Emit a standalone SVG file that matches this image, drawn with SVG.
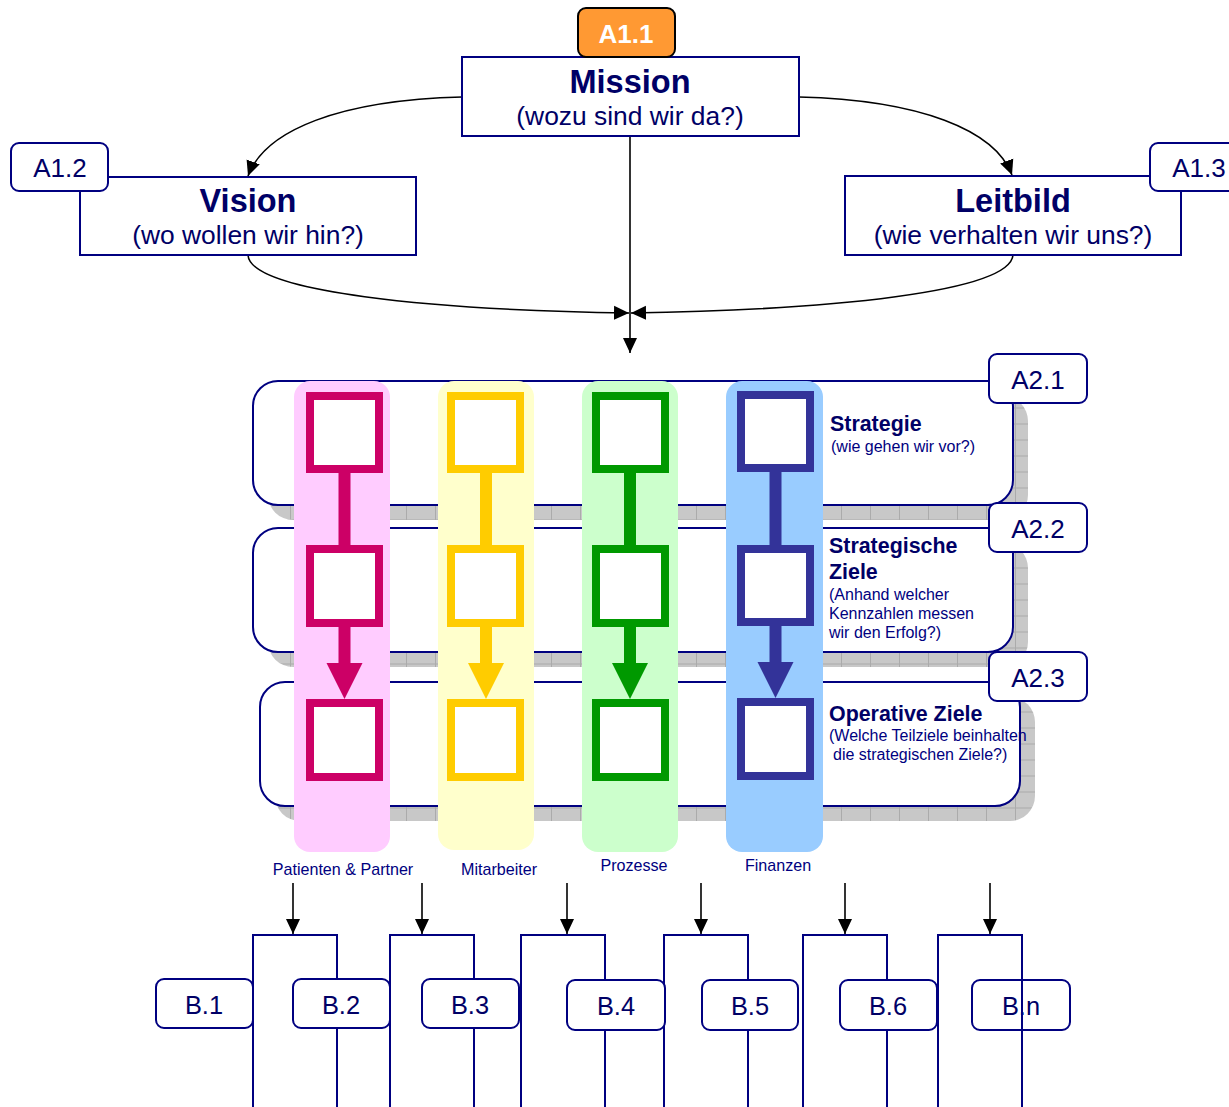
<svg xmlns="http://www.w3.org/2000/svg" width="1229" height="1107" viewBox="0 0 1229 1107">
<style>
text{font-family:"Liberation Sans",Arial,sans-serif;fill:#000066}
.box{fill:#fff;stroke:#000080;stroke-width:2}
.lbl{fill:#fff;stroke:#000080;stroke-width:2}
.t24{font-size:25.4px;text-anchor:middle}
.t25{font-size:26px;text-anchor:middle}
.big{font-size:32.5px;font-weight:bold;text-anchor:middle}
.sub{font-size:26.4px;text-anchor:middle}
.bt{font-size:21.4px;font-weight:bold}
.st{font-size:16px;fill:#000080}
.cl{font-size:16.1px;text-anchor:middle;fill:#000080}
.band{fill:#fff;stroke:#000080;stroke-width:2}
.shadow{fill:url(#shp)}
.conn{fill:none;stroke:#000;stroke-width:1.6}
</style>
<defs>
<pattern id="shp" width="29" height="16" patternUnits="userSpaceOnUse">
<rect width="29" height="16" fill="#c8c8c8"/>
<path d="M0,8H29M0.5,0V16" stroke="#ababab" stroke-width="1"/>
</pattern>
<marker id="arr" markerWidth="16" markerHeight="16" refX="15" refY="8" orient="auto" markerUnits="userSpaceOnUse">
<path d="M0,1 L15,8 L0,15 z" fill="#000"/>
</marker>
</defs>

<!-- connectors -->
<g id="connectors">
<path class="conn" d="M462,97 C340,100 265,130 248,176" marker-end="url(#arr)"/>
<path class="conn" d="M799,97 C920,100 995,130 1012,175" marker-end="url(#arr)"/>
<path class="conn" d="M630,136 V353" marker-end="url(#arr)"/>
<path class="conn" d="M248,255 C250,292 430,310 629,313" marker-end="url(#arr)"/>
<path class="conn" d="M1013,255 C1010,292 830,310 631,313" marker-end="url(#arr)"/>
<path class="conn" d="M293,883 V934" marker-end="url(#arr)"/>
<path class="conn" d="M422,883 V934" marker-end="url(#arr)"/>
<path class="conn" d="M567,883 V934" marker-end="url(#arr)"/>
<path class="conn" d="M701,883 V934" marker-end="url(#arr)"/>
<path class="conn" d="M845,883 V934" marker-end="url(#arr)"/>
<path class="conn" d="M990,883 V934" marker-end="url(#arr)"/>
</g>

<!-- top nodes -->
<g id="mission">
<rect class="box" x="462" y="57" width="337" height="79"/>
<text class="big" x="630" y="93">Mission</text>
<text class="sub" x="630" y="125">(wozu sind wir da?)</text>
</g>
<g id="a11">
<rect x="578" y="8" width="97" height="49" rx="8" fill="#ff9933" stroke="#000" stroke-width="2"/>
<text x="626" y="43" style="font-size:26px;font-weight:bold;text-anchor:middle;fill:#fff">A1.1</text>
</g>
<g id="vision">
<rect class="box" x="80" y="177" width="336" height="78"/>
<text class="big" x="248" y="212">Vision</text>
<text class="sub" x="248" y="244">(wo wollen wir hin?)</text>
</g>
<g id="a12">
<rect class="lbl" x="11" y="143" width="97" height="48" rx="8"/>
<text class="t25" x="60" y="177">A1.2</text>
</g>
<g id="leitbild">
<rect class="box" x="845" y="176" width="336" height="79"/>
<text class="big" x="1013" y="212">Leitbild</text>
<text class="sub" x="1013" y="244">(wie verhalten wir uns?)</text>
</g>
<g id="a13">
<rect class="lbl" x="1150" y="143" width="98" height="48" rx="8"/>
<text class="t25" x="1199" y="177">A1.3</text>
</g>

<!-- bands -->
<g id="band1">
<rect class="shadow" x="268" y="396" width="760" height="124" rx="25"/>
<rect class="band" x="253" y="381" width="760" height="124" rx="25"/>
</g>
<g id="band2">
<rect class="shadow" x="268" y="543" width="760" height="124" rx="25"/>
<rect class="band" x="253" y="528" width="760" height="124" rx="25"/>
</g>
<g id="band3">
<rect class="shadow" x="275" y="697" width="760" height="124" rx="25"/>
<rect class="band" x="260" y="682" width="760" height="124" rx="25"/>
</g>

<!-- columns -->
<g id="col-patienten">
<rect x="294" y="381" width="96" height="471" rx="16" fill="#ffccff"/>
<rect x="338.5" y="472" width="12" height="74" fill="#cc0066"/>
<rect x="338.5" y="626" width="12" height="38" fill="#cc0066"/>
<path d="M326.5,663 H362.5 L344.5,699 z" fill="#cc0066"/>
<g fill="#fff" stroke="#cc0066" stroke-width="8">
<rect x="310" y="396" width="69" height="73"/>
<rect x="310" y="549" width="69" height="74"/>
<rect x="310" y="703" width="69" height="74"/>
</g>
<text class="cl" x="343" y="875">Patienten &amp; Partner</text>
</g>
<g id="col-mitarbeiter">
<rect x="438" y="381" width="96" height="469" rx="16" fill="#ffffcc"/>
<rect x="480" y="472" width="12" height="74" fill="#ffcc00"/>
<rect x="480" y="626" width="12" height="38" fill="#ffcc00"/>
<path d="M468,663 H504 L486,699 z" fill="#ffcc00"/>
<g fill="#fff" stroke="#ffcc00" stroke-width="8">
<rect x="451" y="396" width="69" height="73"/>
<rect x="451" y="549" width="69" height="74"/>
<rect x="451" y="703" width="69" height="74"/>
</g>
<text class="cl" x="499" y="875">Mitarbeiter</text>
</g>
<g id="col-prozesse">
<rect x="582" y="381" width="96" height="471" rx="16" fill="#ccffcc"/>
<rect x="624" y="472" width="12" height="74" fill="#009900"/>
<rect x="624" y="626" width="12" height="38" fill="#009900"/>
<path d="M612,663 H648 L630,699 z" fill="#009900"/>
<g fill="#fff" stroke="#009900" stroke-width="8">
<rect x="596" y="396" width="69" height="73"/>
<rect x="596" y="549" width="69" height="74"/>
<rect x="596" y="703" width="69" height="74"/>
</g>
<text class="cl" x="634" y="871">Prozesse</text>
</g>
<g id="col-finanzen">
<rect x="726" y="381" width="97" height="471" rx="16" fill="#99ccff"/>
<rect x="769.5" y="471" width="12" height="75" fill="#333399"/>
<rect x="769.5" y="625" width="12" height="38" fill="#333399"/>
<path d="M757.5,662 H793.5 L775.5,698 z" fill="#333399"/>
<g fill="#fff" stroke="#333399" stroke-width="8">
<rect x="741" y="395" width="69" height="73"/>
<rect x="741" y="549" width="69" height="73"/>
<rect x="741" y="702" width="69" height="74"/>
</g>
<text class="cl" x="778" y="871">Finanzen</text>
</g>

<!-- band texts -->
<g id="strategie-text">
<text class="bt" x="830" y="431">Strategie</text>
<text class="st" x="831" y="452">(wie gehen wir vor?)</text>
</g>
<g id="ziele-text">
<text class="bt" x="829" y="553">Strategische</text>
<text class="bt" x="829" y="579">Ziele</text>
<text class="st" x="829" y="600">(Anhand welcher</text>
<text class="st" x="829" y="619">Kennzahlen messen</text>
<text class="st" x="829" y="638">wir den Erfolg?)</text>
</g>
<g id="operative-text">
<text class="bt" x="829" y="721">Operative Ziele</text>
<text class="st" x="829" y="741">(Welche Teilziele beinhalten</text>
<text class="st" x="833" y="760">die strategischen Ziele?)</text>
</g>

<g id="a21">
<rect class="lbl" x="989" y="354" width="98" height="49" rx="8"/>
<text class="t25" x="1038" y="389">A2.1</text>
</g>
<g id="a22">
<rect class="lbl" x="989" y="503" width="98" height="49" rx="8"/>
<text class="t25" x="1038" y="538">A2.2</text>
</g>
<g id="a23">
<rect class="lbl" x="989" y="652" width="98" height="49" rx="8"/>
<text class="t25" x="1038" y="687">A2.3</text>
</g>

<!-- bottom columns -->
<g id="bcols">
<rect class="box" x="253" y="935" width="84" height="180"/>
<rect class="box" x="390" y="935" width="84" height="180"/>
<rect class="box" x="521" y="935" width="84" height="180"/>
<rect class="box" x="664" y="935" width="84" height="180"/>
<rect class="box" x="803" y="935" width="84" height="180"/>
</g>
<g id="b1"><rect class="lbl" x="156" y="979" width="97" height="49" rx="8"/><text class="t24" x="204" y="1014">B.1</text></g>
<g id="b2"><rect class="lbl" x="293" y="979" width="97" height="49" rx="8"/><text class="t24" x="341" y="1014">B.2</text></g>
<g id="b3"><rect class="lbl" x="422" y="979" width="97" height="49" rx="8"/><text class="t24" x="470" y="1014">B.3</text></g>
<g id="b4"><rect class="lbl" x="567" y="980" width="98" height="50" rx="8"/><text class="t24" x="616" y="1015">B.4</text></g>
<g id="b5"><rect class="lbl" x="702" y="980" width="96" height="50" rx="8"/><text class="t24" x="750" y="1015">B.5</text></g>
<g id="b6"><rect class="lbl" x="840" y="980" width="97" height="50" rx="8"/><text class="t24" x="888" y="1015">B.6</text></g>
<g id="bn"><rect class="lbl" x="972" y="980" width="98" height="50" rx="8"/><text class="t24" x="1021" y="1015">B.n</text></g>
<g id="bcol6">
<rect x="938" y="935" width="84" height="180" fill="none" stroke="#000080" stroke-width="2"/>
</g>
</svg>
